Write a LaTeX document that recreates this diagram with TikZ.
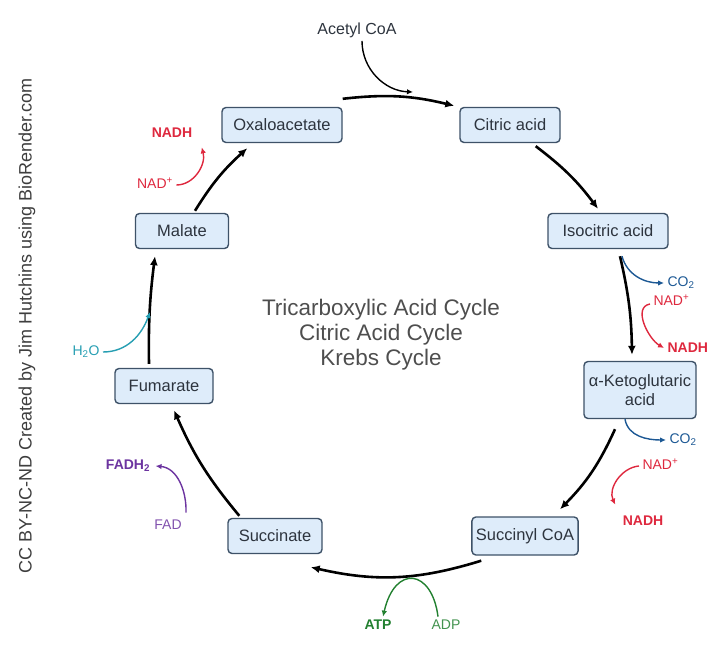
\documentclass[tikz,border=0pt]{standalone}
\usepackage{fontspec}
\setmainfont{Liberation Sans}
\usetikzlibrary{arrows.meta}
\definecolor{boxfill}{RGB}{222,236,250}
\definecolor{boxline}{RGB}{62,82,104}
\definecolor{boxtext}{RGB}{45,52,62}
\definecolor{nadred}{RGB}{222,40,62}
\definecolor{coblue}{RGB}{28,88,148}
\definecolor{atpgreen}{RGB}{34,128,48}
\definecolor{fadpurple}{RGB}{108,52,160}
\definecolor{watercyan}{RGB}{38,158,178}
\definecolor{titlegray}{RGB}{78,78,78}

\begin{document}
\begin{tikzpicture}[x=1pt, y=1pt,
    every node/.style={font=\fontsize{16}{18}\selectfont},
    acid/.style={draw=boxline, fill=boxfill, text=boxtext, line width=1.4pt, rounded corners=4pt,
        minimum height=35pt, inner xsep=4pt, align=center,
        font=\fontsize{16.5}{19}\selectfont},
    cyc/.style={-{Latex[length=9pt,width=8pt]}, line width=2.6pt, black},
    side/.style={-{Latex[length=6pt,width=5.5pt]}, line width=1.4pt},
    small/.style={font=\fontsize{14}{16}\selectfont},
    smallbold/.style={font=\fontsize{14}{16}\selectfont\bfseries}]
    \useasboundingbox (0,0) rectangle (720,659);
    % compounds
    \node[acid, minimum width=120pt] (oxa) at (282,534) {Oxaloacetate};
    \node[acid, minimum width=100pt] (cit) at (510,534) {Citric acid};
    \node[acid, minimum width=120pt] (iso) at (608,428) {Isocitric acid};
    \node[acid, minimum height=57pt, text width=104pt] (akg) at (640,269) {α-Ketoglutaric\\acid};
    \node[acid, minimum width=104pt, minimum height=38pt] (suc) at (525,123) {Succinyl CoA};
    \node[acid, minimum width=94pt] (sucn) at (275,123) {Succinate};
    \node[acid, minimum width=98pt] (fum) at (164,273) {Fumarate};
    \node[acid, minimum width=93pt] (mal) at (182,428) {Malate};
    % title
    \node[text=titlegray, font=\fontsize{22.5}{25}\selectfont, align=center] (title) at (381,324)
        {Tricarboxylic Acid Cycle\\Citric Acid Cycle\\Krebs Cycle};
    % credit
    \node[rotate=90, text=titlegray!80!black, font=\fontsize{18}{20}\selectfont] (credit) at (27,333)
        {CC BY-NC-ND Created by Jim Hutchins using BioRender.com};
    % cycle
    \draw[cyc] ([yshift=8pt]oxa.north east) to[bend left=10] ([xshift=-5pt,yshift=1pt]cit.north west);
    \draw[cyc] ([xshift=-25pt,yshift=-3pt]cit.south east) to[bend left=8] ([xshift=-10pt,yshift=4pt]iso.north);
    \draw[cyc] ([xshift=12pt,yshift=-7pt]iso.south) to[bend left=6] ([xshift=-8pt,yshift=6pt]akg.north);
    \draw[cyc] ([xshift=-25pt,yshift=-10pt]akg.south) to[bend left=10] ([xshift=35pt,yshift=7pt]suc.north);
    \draw[cyc] ([xshift=10pt,yshift=-5pt]suc.south west) to[bend left=15] ([xshift=-12pt,yshift=-13pt]sucn.south east);
    \draw[cyc] ([xshift=12pt,yshift=2pt]sucn.north west) to[bend left=8] ([xshift=10pt,yshift=-6pt]fum.south);
    \draw[cyc] ([xshift=-15pt,yshift=4pt]fum.north) to[bend left=4] ([xshift=-27pt,yshift=-7pt]mal.south);
    \draw[cyc] ([xshift=13pt,yshift=2pt]mal.north) to[bend left=8] ([xshift=26pt,yshift=-5pt]oxa.south west);
    % acetyl CoA
    \node[text=boxtext] (acetyl) at (357,629) {Acetyl CoA};
    \coordinate (acetylin) at (413,567);
    \draw[side, black] ([xshift=5pt]acetyl.south) to[out=-90,in=178] (acetylin);
    % isocitric acid
    \node[small, text=coblue, anchor=west] (co2a) at (664,376) {CO\textsubscript{2}};
    \node[small, text=nadred, anchor=west] (nad1) at (650,359) {NAD\textsuperscript{+}};
    \node[smallbold, text=nadred, anchor=west] (nadh1) at (664,311) {NADH};
    \draw[side, coblue] ([xshift=14pt,yshift=-7pt]iso.south) to[out=-75,in=180] (co2a.west);
    \draw[side, nadred] ([yshift=-4pt]nad1.west) to[out=190,in=150] (nadh1.west);
    % alpha-ketoglutaric acid
    \node[small, text=coblue, anchor=west] (co2b) at (666,219) {CO\textsubscript{2}};
    \node[small, text=nadred, anchor=west] (nad2) at (639,195) {NAD\textsuperscript{+}};
    \node[smallbold, text=nadred] (nadh2) at (643,138) {NADH};
    \draw[side, coblue] ([xshift=-15pt]akg.south) to[out=-80,in=180] (co2b.west);
    \draw[side, nadred] ([yshift=-2pt]nad2.west) to[out=185,in=115] ([xshift=-4pt,yshift=8pt]nadh2.north west);
    % succinyl CoA
    \node[smallbold, text=atpgreen] (atp) at (378,34) {ATP};
    \node[small, text=atpgreen!85!white] (adp) at (446,34) {ADP};
    \draw[side, atpgreen] ([xshift=-8pt]adp.north) .. controls (432,90) and (395,95) .. ([xshift=5pt]atp.north);
    % succinate
    \node[smallbold, text=fadpurple] (fadh) at (128,193) {FADH\textsubscript{2}};
    \node[small, text=fadpurple!85!white] (fad) at (168,134) {FAD};
    \draw[side, fadpurple] ([xshift=18pt,yshift=4pt]fad.north) to[out=88,in=-5] ([xshift=2pt]fadh.east);
    % fumarate
    \node[small, text=watercyan] (h2o) at (86,307) {H\textsubscript{2}O};
    \coordinate (h2otip) at (150,347);
    \draw[side, watercyan] (h2o.east) to[out=0,in=-110] (h2otip);
    % malate
    \node[small, text=nadred] (nad3) at (155,476) {NAD\textsuperscript{+}};
    \node[smallbold, text=nadred] (nadh3) at (172,526) {NADH};
    \draw[side, nadred] ([yshift=-2pt]nad3.east) to[out=0,in=-75] ([xshift=6pt,yshift=-6pt]nadh3.south east);
\end{tikzpicture}
\end{document}
